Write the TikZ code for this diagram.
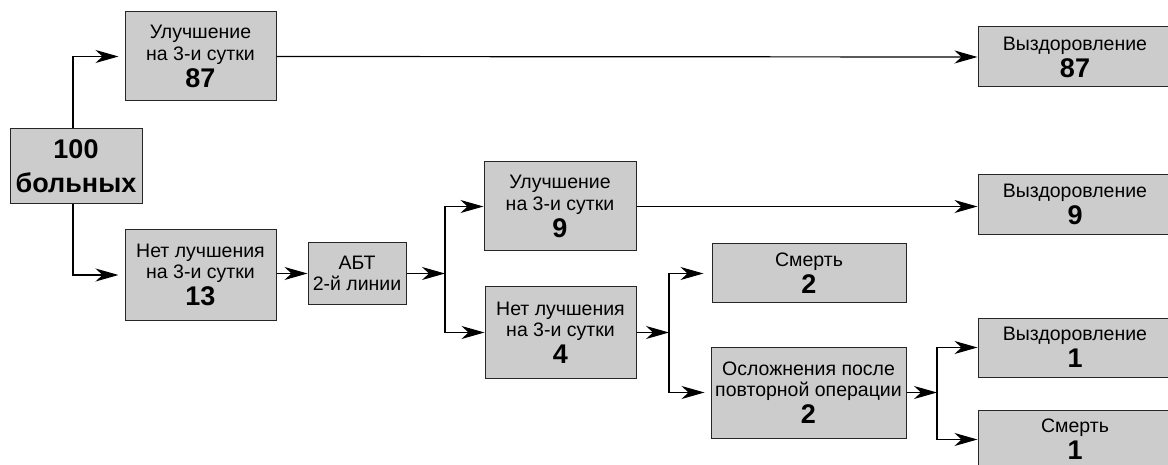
\documentclass[tikz,border=0pt]{standalone}
\usepackage{fontspec}
\setmainfont{Liberation Sans}
\usetikzlibrary{arrows.meta}
\tikzset{
  box/.style={draw=black!85, line width=1pt, fill=black!20, inner sep=0pt, align=center,
    font=\fontsize{19.5}{21.7}\selectfont},
  arr/.style={line width=1.2pt, -{Stealth[length=23pt,width=13pt,inset=7pt]}},
}
\newcommand{\num}[1]{\\[3pt]{\fontsize{27}{27}\selectfont\bfseries #1}}
\begin{document}
\begin{tikzpicture}[x=1pt,y=-1pt]
\path[use as bounding box] (0,0) rectangle (1168,465);
\clip (0,0) rectangle (1168,465);
\node[box, minimum width=132pt, minimum height=75pt, font=\fontsize{27}{33.7}\selectfont\bfseries] (b100) at (76,166.5) {100\\больных};
\node[box, minimum width=151pt, minimum height=89pt] (up87) at (200.5,56.5) {Улучшение\\на 3-и сутки\num{87}};
\node[box, minimum width=151pt, minimum height=90pt] (no13) at (200.5,275) {Нет лучшения\\на 3-и сутки\num{13}};
\node[box, minimum width=98pt, minimum height=62pt] (abt) at (357,273.5) {АБТ\\2-й линии};
\node[box, minimum width=152pt, minimum height=89pt] (up9) at (560,206.5) {Улучшение\\на 3-и сутки\num{9}};
\node[box, minimum width=151pt, minimum height=91pt] (no4) at (560.5,332.5) {Нет лучшения\\на 3-и сутки\num{4}};
\node[box, minimum width=194pt, minimum height=59pt] (d2) at (809,273.5) {Смерть\num{2}};
\node[box, minimum width=195pt, minimum height=91pt] (comp) at (808.5,392.5) {Осложнения после\\повторной операции\num{2}};
\node[box, minimum width=194pt, minimum height=60pt] (r87) at (1075,57) {Выздоровление\num{87}};
\node[box, minimum width=194pt, minimum height=60pt] (r9) at (1075,204.5) {Выздоровление\num{9}};
\node[box, minimum width=194pt, minimum height=59pt] (r1) at (1075,347.5) {Выздоровление\num{1}};
\node[box, minimum width=194pt, minimum height=59pt] (d1) at (1075,439.5) {Смерть\num{1}};
\coordinate (j0) at (73,166.5);
\coordinate (j1) at (445,273.5);
\coordinate (j2) at (669,332.5);
\coordinate (j3) at (937,392.5);
\draw[arr, shorten >=6pt] (j0 |- b100.north) |- (up87.west);
\draw[arr, shorten >=6pt] (j0 |- b100.south) |- (no13.west);
\draw[arr] (up87.east) -- (r87.west);
\draw[arr] (no13.east |- abt.west) -- (abt.west);
\draw[arr] (abt.east) -- (j1);
\draw[arr] (j1) |- (up9.west);
\draw[arr] (j1) |- (no4.west);
\draw[arr] (up9.east) -- (r9.west |- up9.east);
\draw[arr] (no4.east) -- (j2);
\draw[arr, shorten >=8pt] (j2) |- (d2.west);
\draw[arr, shorten >=6pt] (j2) |- (comp.west);
\draw[arr] (comp.east) -- (j3);
\draw[arr] (j3) |- (r1.west);
\draw[arr] (j3) |- (d1.west);
\end{tikzpicture}
\end{document}
